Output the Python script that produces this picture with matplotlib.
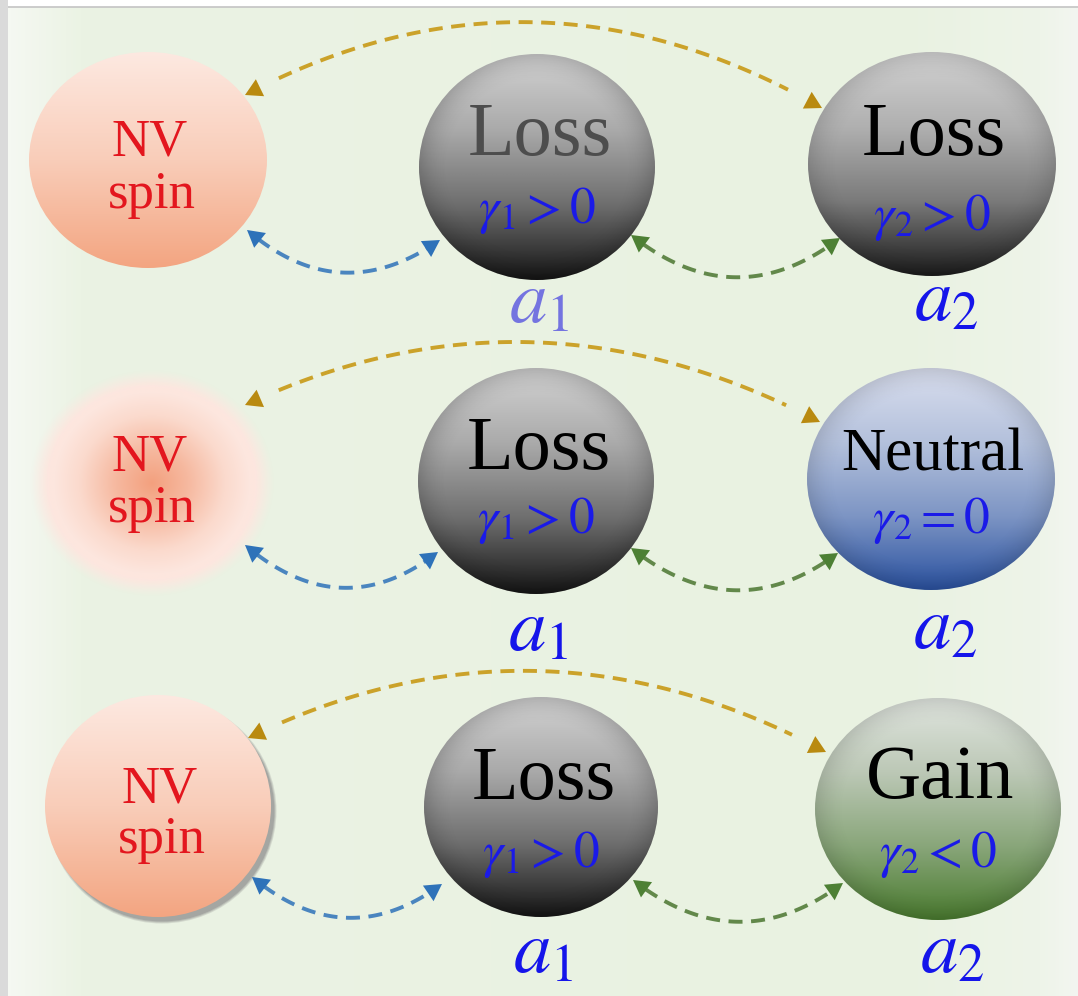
import numpy as np
import matplotlib.pyplot as plt
from matplotlib.patches import Ellipse, FancyArrowPatch, Rectangle
from matplotlib.colors import LinearSegmentedColormap, to_rgb

plt.rcParams['mathtext.fontset'] = 'stix'
SERIF = 'Liberation Serif'

# ---- diagram content (pixel coordinates of the reference) ----
# NV spin ellipses: cx, cy, rx, ry
nv_cx = [148, 152, 158]
nv_cy = [160, 483, 806]
nv_rx = [119, 122, 113]
nv_ry = [108, 113, 111]
nv_base = [(155, 208), (470, 522), (802, 853)]
nv_tx = [150, 150, 160]

# mode a1 (always loss)
a1_cx = [537, 536, 541]
a1_cy = [167, 481, 807]
a1_rx = [118, 118, 117]
a1_ry = [113, 113, 110]
a1_word_base = [155, 469, 799]
a1_gamma_base = [223, 533, 867]
a1_word = ['Loss', 'Loss', 'Loss']
a1_gamma = [r'$\gamma_1>0$', r'$\gamma_1>0$', r'$\gamma_1>0$']
a1_lab_base = [322, 650, 972]

# mode a2 (loss / neutral / gain)
a2_cx = [932, 931, 938]
a2_cy = [164, 479, 809]
a2_rx = [124, 124, 123]
a2_ry = [112, 111, 111]
a2_word = ['Loss', 'Neutral', 'Gain']
a2_word_size = [55, 44, 55]
a2_word_base = [155, 470, 798]
a2_gamma = [r'$\gamma_2>0$', r'$\gamma_2=0$', r'$\gamma_2<0$']
a2_gamma_base = [230, 533, 867]
a2_lab_base = [320, 648, 972]

a2_fill = [['#d2d2d2', '#b0b0b0', '#7a7a7a', '#1c1c1c'],
           ['#d9deee', '#b4c1dc', '#7d95c4', '#2b52a0'],
           ['#e0e5df', '#bcc8b6', '#89a67a', '#4a7b2f']]
loss_fill = ['#d2d2d2', '#aaaaaa', '#6e6e6e', '#161616']
nv_fill = ['#fde9e1', '#f9cdb9', '#f3a581']

# dashed curved couplings: start, control, end (quadratic Bezier)
gold_arcs = [((245, 95), (533, -57), (822, 108)),
             ((245, 405), (532, 271), (820, 422)),
             ((248, 738), (537, 597), (826, 752))]
blue_arcs = [((247, 230), (340, 310), (440, 240)),
             ((245, 545), (342, 627), (438, 552)),
             ((252, 877), (346, 955), (442, 884))]
green_arcs = [((631, 235), (735, 318), (840, 238)),
              ((631, 548), (735, 630), (838, 553)),
              ((633, 880), (738, 962), (843, 883))]

W, H = 1078, 996
fig = plt.figure(figsize=(W / 100, H / 100), dpi=100)
ax = fig.add_axes([0, 0, 1, 1])
ax.set_xlim(0, W)
ax.set_ylim(H, 0)
ax.axis('off')

# background: pale green with whiter left/right margins
px = np.array([0, 10, 80, 900, 1040, W])
pc = np.array([to_rgb(c) for c in ['#f7f9f5', '#f5f8f2', '#ebf3e4',
                                   '#e9f2e1', '#eef4e9', '#f3f6f1']])
xs = np.arange(W)
row = np.stack([np.interp(xs, px, pc[:, k]) for k in range(3)], axis=-1)
bg = np.repeat(row[None, :, :], 20, axis=0)
ax.imshow(bg, extent=(0, W, H, 0), aspect='auto', zorder=0)
ax.add_patch(Rectangle((0, 0), W, 7, facecolor='white', edgecolor='none', zorder=1))
ax.plot([8, W], [7, 7], color='#c4c4c4', lw=1.2, zorder=1)
ax.add_patch(Rectangle((0, 0), 8, H, facecolor='#dadada', edgecolor='none', zorder=1))


def grad_ellipse(cx, cy, rx, ry, stops, rim=0.0, z=3):
    cmap = LinearSegmentedColormap.from_list('g', stops)
    g = np.linspace(0, 1, 256).reshape(-1, 1)
    im = ax.imshow(g, cmap=cmap, extent=(cx - rx, cx + rx, cy + ry, cy - ry),
                   aspect='auto', zorder=z, interpolation='bilinear')
    e = Ellipse((cx, cy), 2 * rx, 2 * ry, facecolor='none', edgecolor='none')
    ax.add_patch(e)
    im.set_clip_path(e)
    if rim > 0:
        yy, xx = np.mgrid[-1:1:200j, -1:1:200j]
        r = np.sqrt(xx ** 2 + yy ** 2)
        sh = np.zeros((200, 200, 4))
        sh[..., 3] = rim * np.clip((r - 0.75) / 0.25, 0, 1) ** 1.8
        im2 = ax.imshow(sh, extent=(cx - rx, cx + rx, cy + ry, cy - ry),
                        aspect='auto', zorder=z + 0.1, interpolation='bilinear')
        e2 = Ellipse((cx, cy), 2 * rx, 2 * ry, facecolor='none', edgecolor='none')
        ax.add_patch(e2)
        im2.set_clip_path(e2)


def soft_ellipse(cx, cy, rx, ry, z=3):
    # radial glow used for the middle NV spin
    yy, xx = np.mgrid[-1:1:300j, -1:1:300j]
    r = np.sqrt(xx ** 2 + yy ** 2)
    cols = np.array([to_rgb(c) for c in ['#f3a07e', '#f6b9a0', '#fbdacd', '#fde6de', '#fde9e2']])
    rs = [0.0, 0.3, 0.6, 0.8, 1.0]
    img = np.zeros((300, 300, 4))
    for k in range(3):
        img[..., k] = np.interp(r, rs, cols[:, k])
    img[..., 3] = np.clip((1.0 - r) / 0.14, 0, 1)
    ax.imshow(img, extent=(cx - rx, cx + rx, cy + ry, cy - ry), aspect='auto',
              zorder=z, interpolation='bilinear')


def coupling(arc, line_c, head_c):
    p0, p1, p2 = [np.array(p, float) for p in arc]
    t = np.linspace(0, 1, 120)[:, None]
    pts = (1 - t) ** 2 * p0 + 2 * (1 - t) * t * p1 + t ** 2 * p2
    ax.plot(pts[7:-7, 0], pts[7:-7, 1], color=line_c, lw=2.8,
            ls=(0, (3.6, 2.2)), zorder=6, solid_capstyle='butt')
    for a, b in [(pts[9], pts[0]), (pts[-10], pts[-1])]:
        ax.add_patch(FancyArrowPatch(a, b, arrowstyle='-|>,head_length=0.6,head_width=0.34',
                                     mutation_scale=20, color=head_c, lw=0,
                                     shrinkA=0, shrinkB=0, zorder=7))


for i in range(3):
    # NV spin
    if i == 1:
        soft_ellipse(nv_cx[i], nv_cy[i], nv_rx[i], nv_ry[i])
    else:
        if i == 2:
            for k, al in enumerate([0.25, 0.35, 0.5]):
                ax.add_patch(Ellipse((nv_cx[i] + 4, nv_cy[i] + 5), 2 * nv_rx[i] + 3 - 2 * k,
                                     2 * nv_ry[i] + 3 - 2 * k, facecolor='#8f8f8f',
                                     edgecolor='none', alpha=al, zorder=2))
        grad_ellipse(nv_cx[i], nv_cy[i], nv_rx[i], nv_ry[i], nv_fill)
    ax.text(nv_tx[i], nv_base[i][0], 'NV', family=SERIF, fontsize=38, color='#e3161e',
            ha='center', va='baseline', zorder=8)
    ax.text(nv_tx[i] + 2, nv_base[i][1], 'spin', family=SERIF, fontsize=38, color='#e3161e',
            ha='center', va='baseline', zorder=8)

    # a1
    grad_ellipse(a1_cx[i], a1_cy[i], a1_rx[i], a1_ry[i], loss_fill, rim=0.16)
    ax.text(a1_cx[i] + 3, a1_word_base[i], a1_word[i], family=SERIF, fontsize=55,
            color='#4d4d4d' if i == 0 else 'black', ha='center', va='baseline', zorder=8)
    ax.text(a1_cx[i], a1_gamma_base[i], a1_gamma[i], fontsize=37, color='#1a1ae8',
            ha='center', va='baseline', zorder=8)
    ax.text(a1_cx[i] + 2, a1_lab_base[i], r'$a_1$', fontsize=54,
            color='#7474e0' if i == 0 else '#1515ea', ha='center', va='baseline', zorder=8)

    # a2
    grad_ellipse(a2_cx[i], a2_cy[i], a2_rx[i], a2_ry[i], a2_fill[i], rim=0.12)
    ax.text(a2_cx[i] + 2, a2_word_base[i], a2_word[i], family=SERIF, fontsize=a2_word_size[i],
            color='black', ha='center', va='baseline', zorder=8)
    ax.text(a2_cx[i], a2_gamma_base[i], a2_gamma[i], fontsize=37, color='#1a1ae8',
            ha='center', va='baseline', zorder=8)
    ax.text(a2_cx[i] + 14, a2_lab_base[i], r'$a_2$', fontsize=54, color='#1515ea',
            ha='center', va='baseline', zorder=8)

    coupling(gold_arcs[i], '#cba22a', '#b98a10')
    coupling(blue_arcs[i], '#4a85bf', '#2e72b9')
    coupling(green_arcs[i], '#62884a', '#4d8034')

fig.savefig('out.png', dpi=100)
